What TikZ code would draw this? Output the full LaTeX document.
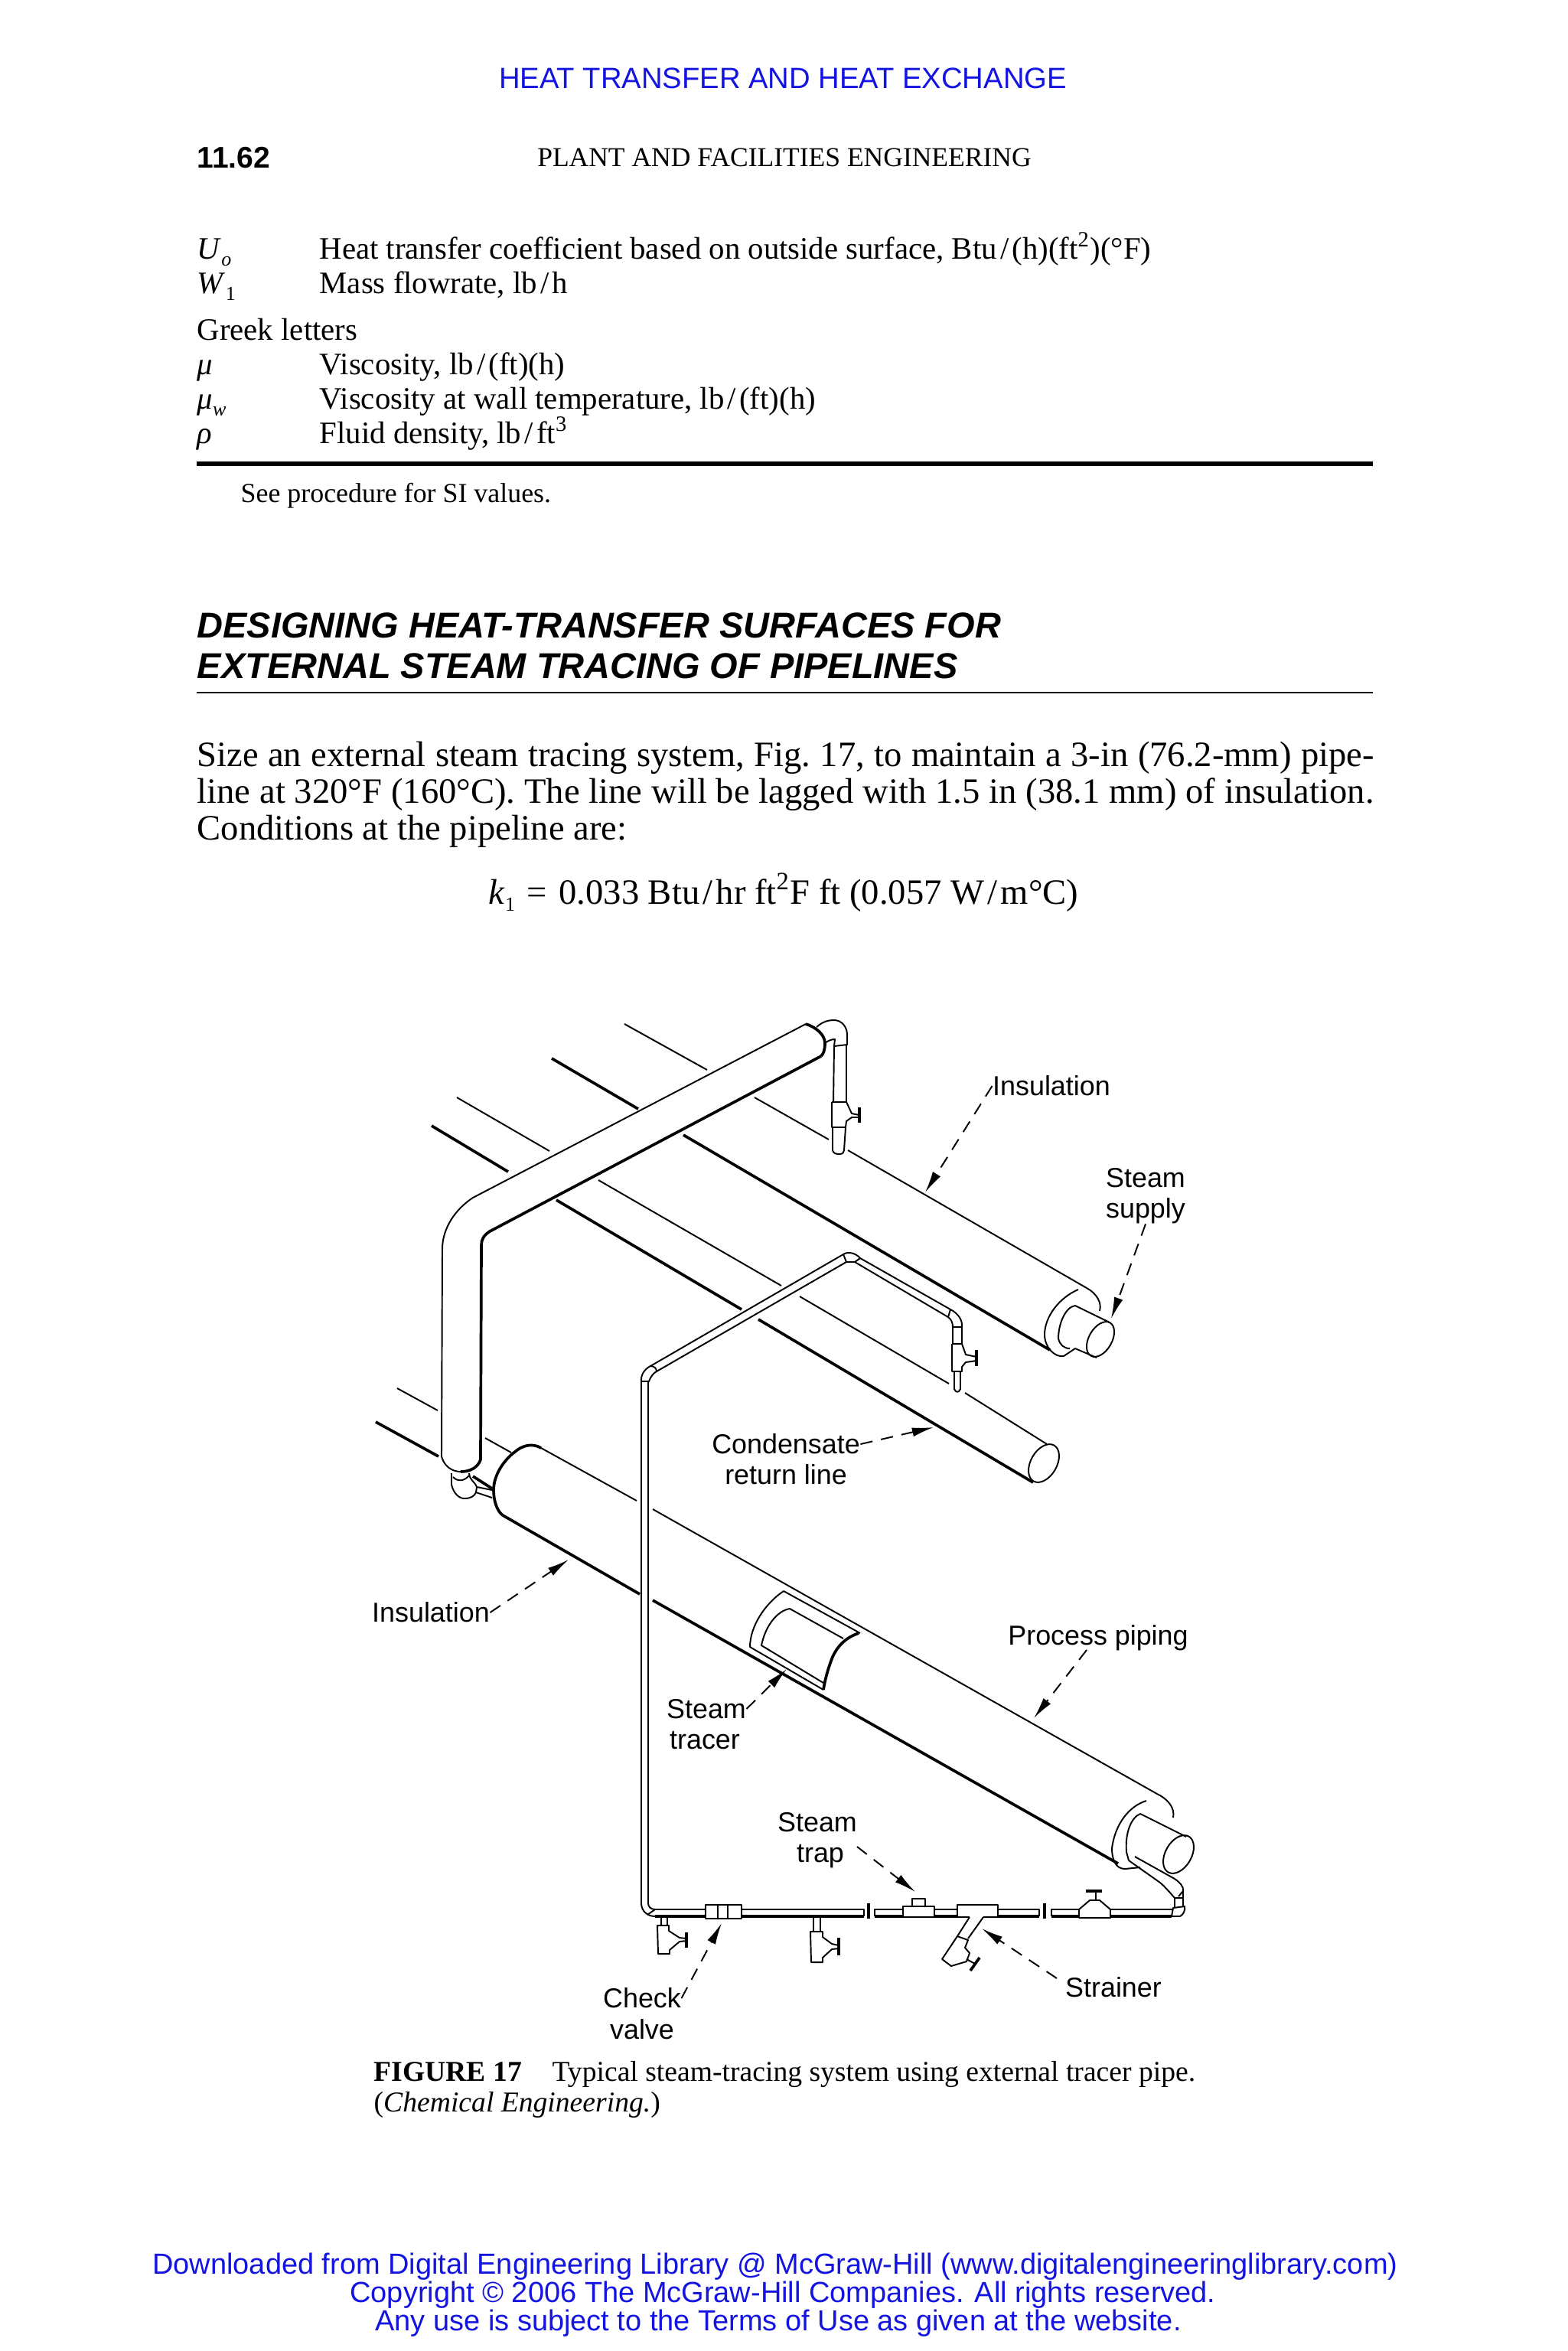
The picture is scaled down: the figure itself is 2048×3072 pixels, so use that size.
\documentclass[tikz,border=0pt]{standalone}
\usepackage{fontspec}
\setmainfont{Liberation Serif}
\setsansfont{Liberation Sans}
\usetikzlibrary{arrows.meta,positioning}
\definecolor{linkblue}{RGB}{20,20,225}
\newcommand{\perslash}{\kern1.2pt/\kern1.2pt}
\newcommand{\lowsub}[1]{\raisebox{-2.6pt}{\fontsize{7.4}{8}\selectfont #1}}
\tikzset{
    thinpipe/.style={line width=0.55pt,line join=round},
    thickpipe/.style={line width=1.05pt,line join=round},
    leader/.style={line width=0.55pt,dash pattern=on 4.6pt off 3.2pt,-{Latex[length=8pt,width=3.4pt]}},
    lbl/.style={font=\sffamily\fontsize{10.2}{12}\selectfont,inner sep=0pt},
    pagetext/.style={font=\fontsize{11.6}{13}\selectfont,inner sep=0pt,anchor=base west},
    bodytext/.style={font=\frenchspacing\fontsize{13.25}{13.75}\selectfont,inner sep=0pt},
    captext/.style={font=\fontsize{10.7}{12}\selectfont,inner sep=0pt,anchor=west},
    linktext/.style={font=\sffamily\fontsize{10.8}{12}\selectfont,inner sep=0pt,text=linkblue},
    headtext/.style={font=\sffamily\bfseries\itshape\fontsize{13.35}{15}\selectfont,inner sep=0pt,anchor=west},
}
\begin{document}
\begin{tikzpicture}[x=0.01cm,y=-0.01cm]
    \useasboundingbox (0,0) rectangle (2048,3072);
    \fill[white] (0,0) rectangle (2048,3072);

    \node[linktext,font=\sffamily\fontsize{10.87}{12}\selectfont] (pagehead) at (1023,102) {HEAT TRANSFER AND HEAT EXCHANGE};
    \node[pagetext,anchor=west,font=\sffamily\bfseries\fontsize{11.1}{13}\selectfont] (pagenum) at (257,206) {11.62};
    \node[pagetext,anchor=center,font=\fontsize{10.1}{12}\selectfont] (booktitle) at (1025,206) {PLANT AND FACILITIES ENGINEERING};

    \foreach \i/\ypos/\sym/\txt in {
        1/338/{\textit{U}\lowsub{\textit{o}}}/{Heat transfer coefficient based on outside surface, Btu\perslash(h)(ft\textsuperscript{2})(°F)},
        2/383/{\textit{W}\lowsub{1}}/{Mass flowrate, lb\perslash h},
        4/489/{\textit{μ}}/{Viscosity, lb\perslash(ft)(h)},
        5/534/{\textit{μ}\lowsub{\textit{w}}}/{Viscosity at wall temperature, lb\perslash(ft)(h)},
        6/579/{\textit{ρ}}/{Fluid density, lb\perslash ft\textsuperscript{3}}}{
        \node[pagetext] (sym\i) at (257,\ypos) {\sym};
        \node[pagetext] (row\i) at (417,\ypos) {\txt};
    }
    \node[pagetext] (greek) at (257,444) {Greek letters};
    \draw[line width=1.5pt] (257,606) -- (1794,606);
    \node[pagetext,anchor=west,font=\fontsize{10.2}{12}\selectfont] (sinote) at (314,648) {See procedure for SI values.};

    \node[headtext] (title1) at (257,817) {DESIGNING HEAT-TRANSFER SURFACES FOR};
    \node[headtext] (title2) at (257,870) {EXTERNAL STEAM TRACING OF PIPELINES};
    \draw[line width=0.5pt] (257,905) -- (1794,905);

    \node[bodytext,anchor=north west,text width=15.37cm,align=justify] (para) at (257,968)
        {Size an external steam tracing system, Fig. 17, to maintain a 3-in (76.2-mm) pipe-\linebreak
        line at 320°F (160°C). The line will be lagged with 1.5 in (38.1 mm) of insulation.\linebreak
        Conditions at the pipeline are:};
    \node[bodytext] (eqn) at (1024,1166)
        {\textit{k}\lowsub{1}\,\,=\,\,0.033 Btu\perslash hr ft\textsuperscript{2}F ft (0.057 W\perslash m°C)};

    % steam supply line
    \draw[thinpipe] (816,1338) -- (924,1398);
    \draw[thinpipe] (986,1434) -- (1083,1489);
    \draw[thinpipe] (1108,1503) -- (1420,1683);
    \draw[thickpipe] (721,1383) -- (834,1449);
    \draw[thickpipe] (893,1483) -- (1372,1764);
    \draw[thinpipe] (1420,1683) .. controls (1433,1690) and (1440,1702) .. (1437,1713);
    \draw[thinpipe] (1409,1685) .. controls (1385,1695) and (1365,1720) .. (1365,1744)
        .. controls (1365,1760) and (1378,1774) .. (1390,1772) -- (1405,1762);
    \draw[thinpipe] (1405,1706) .. controls (1392,1708) and (1383,1730) .. (1383,1749)
        .. controls (1385,1757) and (1390,1762) .. (1398,1762);
    \draw[thinpipe] (1405,1706) -- (1450,1728);
    \draw[thinpipe] (1405,1762) -- (1433,1774);
    \draw[thinpipe] (1438,1750) ellipse [x radius=0.25cm,y radius=0.15cm,rotate=60];

    % condensate return line
    \draw[thinpipe] (597,1434) -- (718,1504);
    \draw[thinpipe] (782,1542) -- (1021,1680);
    \draw[thinpipe] (1045,1694) -- (1240,1808);
    \draw[thinpipe] (1261,1820) -- (1368,1887);
    \draw[thickpipe] (564,1471) -- (664,1531);
    \draw[thickpipe] (727,1568) -- (969,1711);
    \draw[thickpipe] (991,1724) -- (1350,1937);
    \draw[thinpipe] (1364,1912) ellipse [x radius=0.27cm,y radius=0.17cm,rotate=60];

    % insulated riser
    \draw[thinpipe] (1053,1338) -- (618,1565) .. controls (595,1580) and (578,1605) .. (578,1632) -- (577,1903)
        .. controls (580,1915) and (590,1923) .. (602,1923);
    \draw[thickpipe] (602,1923) .. controls (615,1923) and (625,1917) .. (628,1907) -- (629,1627)
        .. controls (629,1620) and (632,1614) .. (640,1609) -- (1073,1380);
    \draw[thickpipe] (1053,1338) .. controls (1066,1342) and (1078,1352) .. (1078,1363) .. controls (1078,1372) and (1076,1377) .. (1073,1380);

    % top elbow and valve
    \draw[thinpipe] (1067,1342) .. controls (1075,1335) and (1082,1333) .. (1090,1333)
        .. controls (1100,1333) and (1107,1342) .. (1107,1352) -- (1107,1365) -- (1090,1367);
    \draw[thinpipe] (1078,1363) .. controls (1082,1360) and (1086,1358) .. (1091,1358) -- (1090,1367);
    \draw[thinpipe] (1090,1367) -- (1089,1440);
    \draw[thinpipe] (1106,1365) -- (1106,1440);
    \draw[thinpipe] (1087,1440) -- (1106,1440) -- (1113,1455) -- (1123,1457);
    \draw[thinpipe] (1123,1460) -- (1113,1460) -- (1106,1465) -- (1105,1473) -- (1087,1473) -- (1087,1440);
    \draw[thickpipe] (1123,1447) -- (1123,1467);
    \draw[thinpipe] (1088,1473) -- (1088,1503) .. controls (1089,1507) and (1092,1508) .. (1097,1508)
        .. controls (1101,1508) and (1103,1506) .. (1103,1503) -- (1105,1473);

    % tracer to condensate line
    \draw[thinpipe] (850,1785) -- (1102,1639);
    \draw[thinpipe] (858,1792) -- (1106,1649);
    \draw[thinpipe] (838,1805) .. controls (837,1797) and (842,1789) .. (850,1785) .. controls (855,1785) and (858,1788) .. (858,1792)
        .. controls (854,1794) and (850,1799) .. (848,1805) -- cycle;
    \draw[thinpipe] (1102,1639) .. controls (1108,1635) and (1118,1637) .. (1124,1644) -- (1117,1649) -- (1106,1649) -- cycle;
    \draw[thinpipe] (1124,1644) -- (1242,1711);
    \draw[thinpipe] (1117,1649) -- (1239,1721);
    \draw[thinpipe] (1242,1711) .. controls (1252,1716) and (1258,1725) .. (1257,1734) -- (1245,1734) .. controls (1245,1728) and (1243,1724) .. (1239,1721) -- cycle;
    \draw[thinpipe] (1245,1734) -- (1245,1756);
    \draw[thinpipe] (1257,1734) -- (1257,1756);
    \draw[thinpipe] (1244,1756) -- (1257,1756) -- (1262,1770) -- (1276,1773);
    \draw[thinpipe] (1276,1778) -- (1262,1780) -- (1257,1786) -- (1257,1792) -- (1244,1792) -- (1244,1756);
    \draw[thickpipe] (1276,1764) -- (1276,1785);
    \draw[thinpipe] (1247,1792) -- (1247,1815) .. controls (1249,1820) and (1253,1820) .. (1255,1815) -- (1255,1792);

    % process pipe
    \draw[thinpipe] (519,1814) -- (572,1843);
    \draw[thinpipe] (634,1879) -- (668,1898);
    \draw[thinpipe] (707,1892) -- (832,1961);
    \draw[thinpipe] (853,1972) -- (1512,2344);
    \draw[thickpipe] (491,1858) -- (573,1903);
    \draw[thickpipe] (657,1980) -- (836,2083);
    \draw[thickpipe] (853,2091) -- (1461,2435);
    \draw[thickpipe] (707,1892) .. controls (695,1885) and (682,1889) .. (673,1897) .. controls (658,1908) and (645,1928) .. (645,1947)
        .. controls (645,1962) and (650,1975) .. (657,1980);
    \draw[thinpipe] (1512,2344) .. controls (1525,2350) and (1536,2362) .. (1533,2375);
    \draw[thinpipe] (1498,2353) .. controls (1475,2360) and (1457,2384) .. (1453,2415)
        .. controls (1453,2430) and (1458,2442) .. (1470,2442) -- (1490,2440);
    \draw[thinpipe] (1490,2370) .. controls (1478,2375) and (1470,2395) .. (1472,2420) -- (1475,2431);
    \draw[thinpipe] (1490,2370) -- (1550,2400);
    \draw[thinpipe] (1540,2423) ellipse [x radius=0.27cm,y radius=0.17cm,rotate=60];

    % riser foot
    \draw[thinpipe] (590,1925) -- (590,1940) .. controls (593,1952) and (600,1958) .. (607,1958) .. controls (615,1958) and (620,1955) .. (622,1950) -- (623,1943)
        .. controls (620,1935) and (614,1935) .. (613,1925);
    \draw[thinpipe] (592,1930) .. controls (598,1936) and (606,1936) .. (613,1928);
    \draw[thickpipe] (618,1929) -- (643,1945);
    \draw[thinpipe] (623,1943) -- (643,1947);
    \draw[thinpipe] (622,1950) -- (643,1957);

    % cut-away window
    \draw[thinpipe] (1024,2079) -- (1124,2134);
    \draw[thinpipe] (1024,2079) .. controls (1000,2095) and (980,2125) .. (980,2152) -- (1076,2208);
    \draw[thinpipe] (1032,2102) -- (1102,2141);
    \draw[thinpipe] (1032,2102) .. controls (1015,2105) and (1000,2125) .. (995,2150) -- (1076,2199);
    \draw[thickpipe] (1122,2134) .. controls (1105,2140) and (1095,2150) .. (1088,2165) .. controls (1082,2180) and (1078,2195) .. (1076,2208);

    % long tracer drop and trap line
    \draw[thinpipe] (838,1805) -- (838,2487) .. controls (838,2496) and (845,2504) .. (856,2504);
    \draw[thinpipe] (847,1805) -- (847,2487) .. controls (847,2491) and (850,2495) .. (856,2495);
    \draw[thinpipe] (846,2502) -- (856,2495);
    \draw[thinpipe] (856,2495) -- (922,2495);
    \draw[thickpipe] (856,2504) -- (922,2504);
    \draw[thinpipe] (922,2489) rectangle (969,2507);
    \draw[thinpipe] (938,2489) -- (938,2507);
    \draw[thinpipe] (951,2489) -- (951,2507);
    \draw[thinpipe] (969,2495) -- (1129,2495) -- (1129,2504);
    \draw[thickpipe] (969,2504) -- (1129,2504);
    \draw[thickpipe] (1135,2487) -- (1135,2507);
    \draw[thinpipe] (1143,2504) -- (1143,2495) -- (1180,2495);
    \draw[thickpipe] (1143,2504) -- (1180,2504);
    \draw[thinpipe] (1180,2491) rectangle (1221,2505);
    \draw[thinpipe] (1192,2491) -- (1192,2481) -- (1209,2481) -- (1209,2491);
    \draw[thinpipe] (1221,2495) -- (1251,2495);
    \draw[thickpipe] (1221,2504) -- (1251,2504);
    \draw[thinpipe] (1267,2505) -- (1251,2505) -- (1251,2489) -- (1304,2489) -- (1304,2505) -- (1285,2505);
    \draw[thinpipe] (1304,2495) -- (1358,2495) -- (1358,2504);
    \draw[thickpipe] (1304,2504) -- (1358,2504);
    \draw[thickpipe] (1365,2487) -- (1365,2507);
    \draw[thinpipe] (1374,2504) -- (1374,2495) -- (1410,2495);
    \draw[thickpipe] (1374,2504) -- (1410,2504);
    \draw[thinpipe] (1410,2506) -- (1410,2495) -- (1424,2483) -- (1437,2483) -- (1451,2495) -- (1451,2506) -- cycle;
    \draw[thinpipe] (1432,2483) -- (1432,2472);
    \draw[thickpipe] (1419,2471) -- (1440,2471);
    \draw[thinpipe] (1451,2495) -- (1533,2495);
    \draw[thickpipe] (1451,2504) -- (1531,2504);

    % up to process pipe
    \draw[thinpipe] (1533,2493) -- (1548,2491) .. controls (1549,2497) and (1546,2502) .. (1542,2504) -- (1531,2504) -- cycle;
    \draw[thinpipe] (1535,2480) -- (1535,2492);
    \draw[thinpipe] (1546,2471) -- (1546,2491);
    \draw[thinpipe] (1535,2480) -- (1546,2480);
    \draw[thinpipe] (1516,2460) .. controls (1522,2465) and (1528,2472) .. (1535,2480);
    \draw[thinpipe] (1535,2455) .. controls (1542,2460) and (1547,2465) .. (1546,2471) -- (1540,2478);
    \draw[thinpipe] (1483,2426) -- (1535,2455);
    \draw[thinpipe] (1475,2431) -- (1516,2460);

    % drains and strainer
    \draw[thinpipe] (864,2505) -- (864,2516);
    \draw[thinpipe] (872,2505) -- (872,2516);
    \draw[thinpipe] (897,2536) -- (888,2537) -- (875,2548) -- (875,2553) -- (860,2553) -- (859,2516) -- (874,2516) -- (874,2523) -- (888,2532) -- (897,2533);
    \draw[thickpipe] (897,2525) -- (897,2545);
    \draw[thinpipe] (1063,2505) -- (1063,2524);
    \draw[thinpipe] (1072,2505) -- (1072,2524);
    \draw[thinpipe] (1096,2546) -- (1087,2547) -- (1075,2558) -- (1075,2564) -- (1060,2564) -- (1059,2524) -- (1075,2524) -- (1075,2531) -- (1087,2540) -- (1096,2542);
    \draw[thickpipe] (1096,2532) -- (1096,2555);
    \draw[thinpipe] (1267,2505) -- (1251,2530);
    \draw[thinpipe] (1285,2505) -- (1265,2533);
    \draw[thinpipe] (1251,2530) -- (1265,2535) -- (1261,2545) -- (1267,2552) -- (1263,2563) -- (1243,2569) -- (1231,2560) -- cycle;
    \draw[thinpipe] (1263,2560) -- (1274,2566);
    \draw[thickpipe] (1280,2558) -- (1268,2575);

    \node[lbl] (lblInsTop) at (1374,1419) {Insulation};
    \node[lbl] (lblSteam) at (1497,1539) {Steam};
    \node[lbl] (lblSupply) at (1497,1582) {supply};
    \node[lbl] (lblCondA) at (1027,1887) {Condensate};
    \node[lbl] (lblCondB) at (1027,1927) {return line};
    \node[lbl] (lblInsLeft) at (563,2107) {Insulation};
    \node[lbl] (lblProcess) at (1435,2140) {Process piping};
    \node[lbl] (lblTracerA) at (923,2233) {Steam};
    \node[lbl] (lblTracerB) at (921,2274) {tracer};
    \node[lbl] (lblTrapA) at (1068,2381) {Steam};
    \node[lbl] (lblTrapB) at (1072,2426) {trap};
    \node[lbl] (lblStrainer) at (1455,2597) {Strainer};
    \node[lbl] (lblCheckA) at (839,2611) {Check};
    \node[lbl] (lblCheckB) at (839,2652) {valve};

    \coordinate (tipInsTop) at (1209,1558);
    \coordinate (tipSupply) at (1452,1723);
    \coordinate (tipCond) at (1220,1865);
    \coordinate (tipInsLeft) at (743,2038);
    \coordinate (fromProcess) at (1420,2156);
    \coordinate (tipProcess) at (1351,2245);
    \coordinate (tipTracer) at (1028,2181);
    \coordinate (fromTrap) at (1120,2413);
    \coordinate (tipTrap) at (1196,2472);
    \coordinate (fromStrainer) at (1381,2585);
    \coordinate (tipStrainer) at (1283,2520);
    \coordinate (tipCheck) at (943,2513);

    \draw[leader] (lblInsTop.west) -- (tipInsTop);
    \draw[leader] (lblSupply.south) -- (tipSupply);
    \draw[leader] (lblCondA.east) -- (tipCond);
    \draw[leader] (lblInsLeft.east) -- (tipInsLeft);
    \draw[leader] (fromProcess) -- (tipProcess);
    \draw[leader] (lblTracerA.east) -- (tipTracer);
    \draw[leader] (fromTrap) -- (tipTrap);
    \draw[leader] (fromStrainer) -- (tipStrainer);
    \draw[leader] (lblCheckA.east) -- (tipCheck);

    \node[captext] (caption1) at (488,2710) {\textbf{FIGURE 17}\hspace{1.05em}Typical steam-tracing system using external tracer pipe.};
    \node[captext] (caption2) at (488,2750) {(\textit{Chemical Engineering.})};

    \node[linktext] (foot1) at (1013,2962) {Downloaded from Digital Engineering Library @ McGraw-Hill (www.digitalengineeringlibrary.com)};
    \node[linktext] (foot2) at (1023,2999) {Copyright © 2006 The McGraw-Hill Companies. All rights reserved.};
    \node[linktext] (foot3) at (1017,3036) {Any use is subject to the Terms of Use as given at the website.};
\end{tikzpicture}
\end{document}
